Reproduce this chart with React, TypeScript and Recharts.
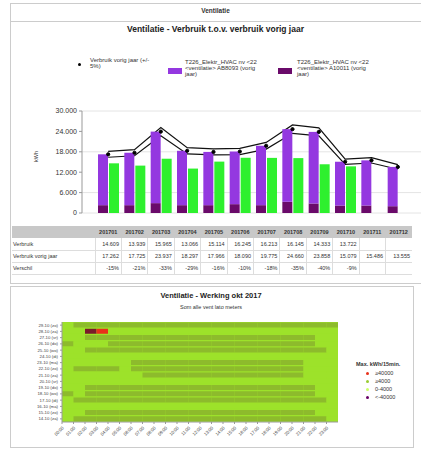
import React from 'react';
import { ComposedChart, BarChart, Bar, Area, Line, XAxis, YAxis, CartesianGrid, Legend, Cell } from 'recharts';

const months = ['201701', '201702', '201703', '201704', '201705', '201706', '201707', '201708', '201709', '201710', '201711', '201712'];
const verbruik = [14609, 13939, 15965, 13066, 15114, 16245, 16213, 16145, 14333, 13722, null, null];
const vorigJaar = [17262, 17725, 23937, 18297, 17966, 18090, 19775, 24660, 23858, 15079, 15486, 13555];
const hvacA10011 = [2300, 2300, 2900, 2300, 2300, 2600, 2300, 3300, 2800, 2200, 2200, 2000];
const hvacAB8093 = [14962, 15425, 21037, 15997, 15666, 15490, 17475, 21360, 21058, 12879, 13286, 11555];
const verschil = ['-15%', '-21%', '-33%', '-29%', '-16%', '-10%', '-18%', '-35%', '-40%', '-9%', '', ''];
const yTicks = [0, 6000, 12000, 18000, 24000, 30000];

const heatDays = ['29-10 (zo)', '28-10 (za)', '27-10 (vr)', '26-10 (do)', '25-10 (wo)', '24-10 (di)', '23-10 (ma)', '22-10 (zo)',
  '21-10 (za)', '20-10 (vr)', '19-10 (do)', '18-10 (wo)', '17-10 (di)', '16-10 (ma)', '15-10 (zo)', '14-10 (za)'];
const heatStates = [
  '011111111111111111111111',
  '004300000000000000000000',
  '001111111111111111111100',
  '100011111111111111111100',
  '001111111111111111111110',
  '000000000000000000000000',
  '000000111111111111111000',
  '011110111111111111111000',
  '000000011111111111111000',
  '000000000000000000000000',
  '001111111111111111111100',
  '101111111111111111111100',
  '011111111111111111111110',
  '000000000000000000000000',
  '001111111111111111111100',
  '011111111111111111111110',
];
const hours = ['00:00', '01:00', '02:00', '03:00', '04:00', '05:00', '06:00', '07:00', '08:00', '09:00', '10:00', '11:00',
  '12:00', '13:00', '14:00', '15:00', '16:00', '17:00', '18:00', '19:00', '20:00', '21:00', '22:00', '23:00'];
const heatLegend = ['≥40000', '≥4000', '0-4000', '<-40000'];

const PURPLE = '#9438e0';
const DARK = '#6a0a6a';
const GREEN = '#2ef02e';
const LIME = '#9de22a';
const OLIVE = '#8dbb2c';
const stateColor: Record<string, string> = { '0': LIME, '1': OLIVE, '3': '#e8311a', '4': '#7a1a2a' };
const legendDot = ['#e8311a', '#99cc33', '#ccff66', '#660066'];

const font = '"Liberation Sans", Arial, sans-serif';
const fmt = (v: number | null) => (v == null ? '' : v.toLocaleString('de-DE'));

const chartData = months.map((m, i) => ({
  month: m,
  base: hvacA10011[i],
  top: hvacAB8093[i],
  verbruik: verbruik[i],
  vorig: vorigJaar[i],
  band: [vorigJaar[i] * 0.95, vorigJaar[i] * 1.05],
}));

const heatData = heatDays.map((d) => {
  const row: Record<string, any> = { day: d };
  hours.forEach((_, h) => { row['h' + h] = 1; });
  return row;
});

// plain svg text so recharts doesn't try to wrap the tiny labels
function DayTick(props: any) {
  const { x, y, payload } = props;
  return (
    <text x={x} y={y} dy={1.6} textAnchor="end" fontSize={4.3} fill="#444">{payload.value}</text>
  );
}

function HourTick(props: any) {
  const { x, y, payload } = props;
  return (
    <text x={x} y={y} dy={3} textAnchor="end" fontSize={4.5} fill="#444" transform={`rotate(-45 ${x} ${y})`}>
      {hours[payload.value] ?? ''}
    </text>
  );
}

function TopLegend() {
  const txt: React.CSSProperties = { fontSize: 6, lineHeight: '6px', color: '#333' };
  return (
    <div style={{ position: 'absolute', left: 60, top: 17, width: 320, height: 20, fontFamily: font }}>
      <div style={{ position: 'absolute', left: 8, top: 6, width: 3, height: 3, borderRadius: 2, background: '#000' }} />
      <div style={{ ...txt, position: 'absolute', left: 20, top: 0, width: 70 }}>Verbruik vorig jaar (+/-<br />5%)</div>
      <div style={{ position: 'absolute', left: 98, top: 11, width: 14, height: 6, background: PURPLE }} />
      <div style={{ ...txt, position: 'absolute', left: 115, top: 2, width: 90 }}>T226_Elektr_HVAC nv &lt;22<br />&lt;ventilatie&gt; AB8093 (vorig<br />jaar)</div>
      <div style={{ position: 'absolute', left: 208, top: 11, width: 14, height: 6, background: DARK }} />
      <div style={{ ...txt, position: 'absolute', left: 227, top: 2, width: 90 }}>T226_Elektr_HVAC nv &lt;22<br />&lt;ventilatie&gt; A10011 (vorig<br />jaar)</div>
    </div>
  );
}

export default function App() {
  const cell: React.CSSProperties = { textAlign: 'right', paddingRight: 2, borderLeft: '1px solid #ddd', whiteSpace: 'nowrap' };
  const rowStyle: React.CSSProperties = { height: 12, borderBottom: '1px solid #ddd' };
  return (
    <div style={{ position: 'absolute', left: 0, top: 0, width: 421, height: 449, background: '#fff', fontFamily: font, overflow: 'hidden' }}>
      {/* top panel */}
      <div style={{ position: 'absolute', left: 10, top: 3, width: 420, height: 279, border: '1px solid #ccc' }} />
      <div style={{ position: 'absolute', left: 10, top: 3, width: 420, height: 18, borderBottom: '1px solid #ccc' }} />
      <div style={{ position: 'absolute', left: 10, top: 7, width: 411, textAlign: 'center', fontSize: 6.5, fontWeight: 'bold', color: '#333' }}>Ventilatie</div>
      <div style={{ position: 'absolute', left: 10, top: 24, width: 411, textAlign: 'center', fontSize: 8.5, fontWeight: 'bold', color: '#222' }}>
        Ventilatie - Verbruik t.o.v. verbruik vorig jaar
      </div>

      <div style={{ position: 'absolute', left: 10, top: 40 }}>
        <ComposedChart width={411} height={180} data={chartData} margin={{ top: 71, right: 0, bottom: 7, left: 0 }} barSize={10} barGap={1}>
          <CartesianGrid vertical={false} stroke="#e4e4e4" />
          <XAxis dataKey="month" hide padding={{ left: 13, right: 10 }} />
          <YAxis width={72} domain={[0, 30000]} ticks={yTicks} tickFormatter={fmt} tick={{ fontSize: 7, fill: '#333' }}
            tickSize={3} stroke="#999" label={{ value: 'kWh', angle: -90, position: 'insideLeft', offset: 26, fontSize: 5.5, fill: '#333' }} />
          <Legend verticalAlign="top" content={() => null} />
          <Bar dataKey="base" stackId="vj" fill={DARK} isAnimationActive={false} />
          <Bar dataKey="top" stackId="vj" fill={PURPLE} isAnimationActive={false} />
          <Bar dataKey="verbruik" fill={GREEN} isAnimationActive={false} />
          <Area type="linear" dataKey="band" fill="#fff" fillOpacity={1} stroke="#111" strokeWidth={1.2} isAnimationActive={false} />
          <Line type="linear" dataKey="vorig" stroke="none" dot={{ r: 1.6, fill: '#000', stroke: '#000' }} isAnimationActive={false} />
        </ComposedChart>
        <TopLegend />
      </div>

      <table style={{ position: 'absolute', left: 12, top: 226, width: 400, borderCollapse: 'collapse', tableLayout: 'fixed', fontSize: 5.5, color: '#333' }}>
        <colgroup>
          <col style={{ width: 83 }} />
          {months.map((m) => <col key={m} style={{ width: 26.4 }} />)}
        </colgroup>
        <tbody>
          <tr style={{ height: 12, background: '#c8c8c8', fontWeight: 'bold' }}>
            <td />
            {months.map((m) => <td key={m} style={{ textAlign: 'center' }}>{m}</td>)}
          </tr>
          <tr style={rowStyle}>
            <td>Verbruik</td>
            {verbruik.map((v, i) => <td key={i} style={cell}>{fmt(v)}</td>)}
          </tr>
          <tr style={rowStyle}>
            <td>Verbruik vorig jaar</td>
            {vorigJaar.map((v, i) => <td key={i} style={cell}>{fmt(v)}</td>)}
          </tr>
          <tr style={rowStyle}>
            <td>Verschil</td>
            {verschil.map((v, i) => <td key={i} style={cell}>{v}</td>)}
          </tr>
        </tbody>
      </table>

      {/* bottom panel */}
      <div style={{ position: 'absolute', left: 10, top: 286, width: 402, height: 160, border: '1px solid #ccc' }} />
      <div style={{ position: 'absolute', left: 10, top: 291, width: 402, textAlign: 'center', fontSize: 7.5, fontWeight: 'bold', color: '#222' }}>
        Ventilatie - Werking okt 2017
      </div>
      <div style={{ position: 'absolute', left: 10, top: 304, width: 402, textAlign: 'center', fontSize: 5.5, color: '#333' }}>
        Som alle vent lato meters
      </div>
      <div style={{ position: 'absolute', left: 10, top: 315 }}>
        <BarChart width={400} height={132} data={heatData} layout="vertical" margin={{ top: 7, right: 72, bottom: 0, left: 0 }}
          barCategoryGap={0.5}>
          <CartesianGrid horizontal={false} vertical={false} fill={LIME} />
          <YAxis type="category" dataKey="day" width={52} tick={<DayTick />} tickSize={2} stroke="#999" interval={0} />
          <XAxis type="number" domain={[0, 24]} ticks={hours.map((_, i) => i)} interval={0}
            height={25} tick={<HourTick />} tickSize={2} stroke="#999" />
          {hours.map((_, h) => (
            <Bar key={h} dataKey={'h' + h} stackId="s" isAnimationActive={false}>
              {heatData.map((_, i) => <Cell key={i} fill={stateColor[heatStates[i][h]]} />)}
            </Bar>
          ))}
        </BarChart>
      </div>
      <div style={{ position: 'absolute', left: 356, top: 361, fontSize: 5.5, color: '#333' }}>
        <div style={{ fontWeight: 'bold', marginBottom: 2 }}>Max. kWh/15min.</div>
        {heatLegend.map((l, i) => (
          <div key={l} style={{ display: 'flex', alignItems: 'center', height: 8, paddingLeft: 10 }}>
            <span style={{ width: 3, height: 3, borderRadius: 2, background: legendDot[i], marginRight: 6 }} />
            {l}
          </div>
        ))}
      </div>
    </div>
  );
}
